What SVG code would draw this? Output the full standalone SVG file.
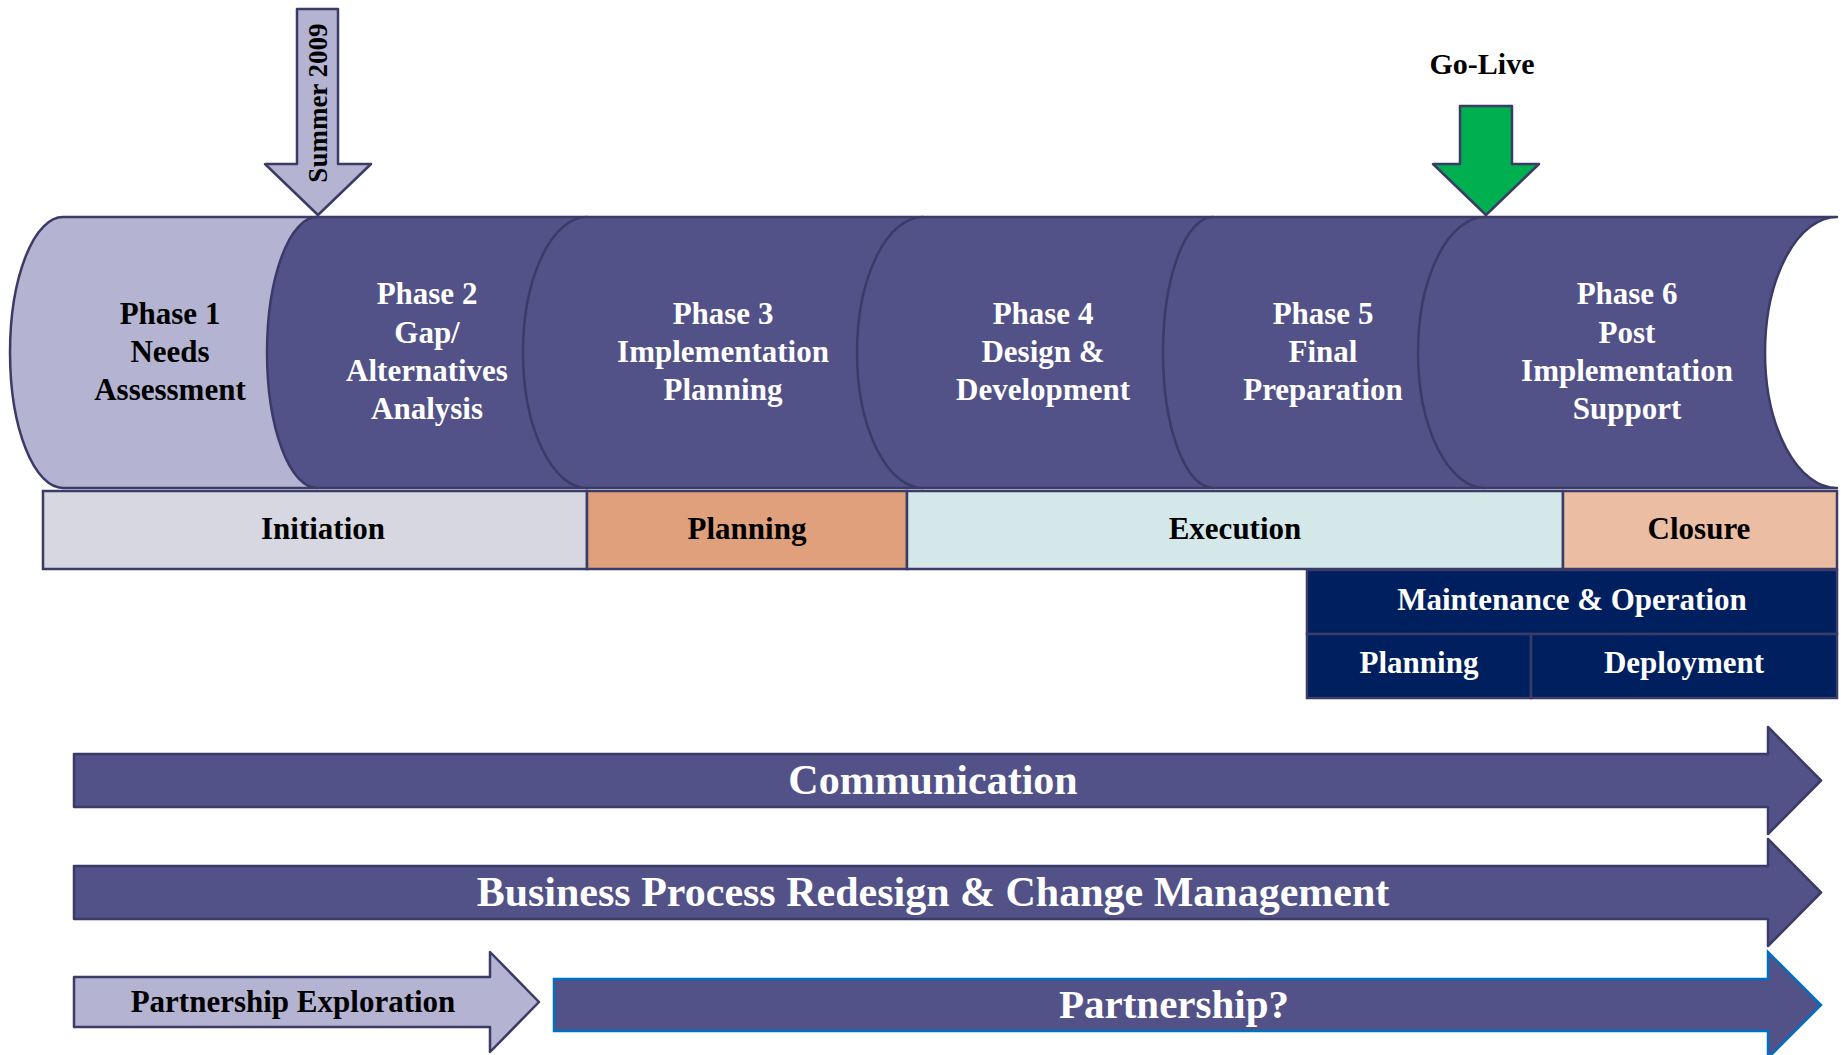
<svg xmlns="http://www.w3.org/2000/svg" width="1841" height="1055" viewBox="0 0 1841 1055">
<style>
  .dark{fill:#525288;stroke:#3B3B68;stroke-width:2.5;stroke-linejoin:round}
  .light{fill:#B4B4D2;stroke:#3B3B68;stroke-width:2.5;stroke-linejoin:round}
  .band{stroke:#3B3B68;stroke-width:2.5}
  .navy{fill:#001F5F;stroke:#3B3B68;stroke-width:2.5}
  text{font-family:"Liberation Serif","Times New Roman",serif;font-weight:bold;text-anchor:middle}
  .w{fill:#FFFFFF}
  .b{fill:#000000}
  .t31{font-size:31px}
  .t42{font-size:42px}
</style>
<rect width="1841" height="1055" fill="#FFFFFF"/>

<g id="milestones">
  <g id="summer2009">
    <path class="light" d="M297,9 L338,9 L338,164 L371,164 L318,215 L265,164 L297,164 Z"/>
    <text class="b" font-size="27" transform="translate(327,103) rotate(-90)">Summer 2009</text>
  </g>
  <g id="golive">
    <path d="M1460,106 L1512,106 L1512,164 L1539,164 L1486,215 L1433,164 L1460,164 Z" fill="#00AF50" stroke="#3B3B68" stroke-width="2.5" stroke-linejoin="round"/>
    <text class="b" font-size="30" x="1482" y="74">Go-Live</text>
  </g>
</g>

<g id="phases">
  <g id="phase1">
    <path class="light" d="M63,217 L317,217 L317,488 L63,488 A53,135.5 0 0 1 63,217 Z"/>
    <text class="b t31" x="170" y="324">Phase 1</text>
    <text class="b t31" x="170" y="362">Needs</text>
    <text class="b t31" x="170" y="400">Assessment</text>
  </g>
  <g id="phase2">
    <path class="dark" d="M317,217 L587,217 L587,488 L317,488 A50,135.5 0 0 1 317,217 Z"/>
    <text class="w t31" x="427" y="304">Phase 2</text>
    <text class="w t31" x="427" y="343">Gap/</text>
    <text class="w t31" x="427" y="381">Alternatives</text>
    <text class="w t31" x="427" y="419">Analysis</text>
  </g>
  <g id="phase3">
    <path class="dark" d="M587,217 L923,217 L923,488 L587,488 A64,135.5 0 0 1 587,217 Z"/>
    <text class="w t31" x="723" y="324">Phase 3</text>
    <text class="w t31" x="723" y="362">Implementation</text>
    <text class="w t31" x="723" y="400">Planning</text>
  </g>
  <g id="phase4">
    <path class="dark" d="M923,217 L1213,217 L1213,488 L923,488 A66,135.5 0 0 1 923,217 Z"/>
    <text class="w t31" x="1043" y="324">Phase 4</text>
    <text class="w t31" x="1043" y="362">Design &amp;</text>
    <text class="w t31" x="1043" y="400">Development</text>
  </g>
  <g id="phase5">
    <path class="dark" d="M1213,217 L1485,217 L1485,488 L1213,488 A50,135.5 0 0 1 1213,217 Z"/>
    <text class="w t31" x="1323" y="324">Phase 5</text>
    <text class="w t31" x="1323" y="362">Final</text>
    <text class="w t31" x="1323" y="400">Preparation</text>
  </g>
  <g id="phase6">
    <path class="dark" d="M1485,217 L1837,217 A72,135.5 0 0 0 1837,488 L1485,488 A67,135.5 0 0 1 1485,217 Z"/>
    <text class="w t31" x="1627" y="304">Phase 6</text>
    <text class="w t31" x="1627" y="343">Post</text>
    <text class="w t31" x="1627" y="381">Implementation</text>
    <text class="w t31" x="1627" y="419">Support</text>
  </g>
</g>

<g id="stages">
  <g id="initiation">
    <rect class="band" x="43" y="491" width="544" height="78" fill="#D7D7E1"/>
    <text class="b t31" x="323" y="539">Initiation</text>
  </g>
  <g id="planning">
    <rect class="band" x="587" y="491" width="320" height="78" fill="#E0A07C"/>
    <text class="b t31" x="747" y="539">Planning</text>
  </g>
  <g id="execution">
    <rect class="band" x="907" y="491" width="656" height="78" fill="#D4E8EA"/>
    <text class="b t31" x="1235" y="539">Execution</text>
  </g>
  <g id="closure">
    <rect class="band" x="1563" y="491" width="274" height="78" fill="#EBBEA4"/>
    <text class="b t31" x="1699" y="539">Closure</text>
  </g>
</g>

<g id="maintenance">
  <g id="mo">
    <rect class="navy" x="1307" y="570" width="530" height="64"/>
    <text class="w t31" x="1572" y="610">Maintenance &amp; Operation</text>
  </g>
  <g id="mo-planning">
    <rect class="navy" x="1307" y="634" width="224" height="64"/>
    <text class="w t31" x="1419" y="673">Planning</text>
  </g>
  <g id="mo-deployment">
    <rect class="navy" x="1531" y="634" width="306" height="64"/>
    <text class="w t31" x="1684" y="673">Deployment</text>
  </g>
</g>

<g id="connectors">
  <g id="communication">
    <path class="dark" d="M74,754 L1768,754 L1768,727 L1821,780.5 L1768,834 L1768,807 L74,807 Z"/>
    <text class="w t42" x="933" y="794">Communication</text>
  </g>
  <g id="bpr">
    <path class="dark" d="M74,866 L1768,866 L1768,839 L1821,892.5 L1768,946 L1768,919 L74,919 Z"/>
    <text class="w t42" x="933" y="906">Business Process Redesign &amp; Change Management</text>
  </g>
  <g id="partnership-exploration">
    <path class="light" d="M74,977 L490,977 L490,952 L539,1002 L490,1052 L490,1027 L74,1027 Z"/>
    <text class="b t31" x="293" y="1012">Partnership Exploration</text>
  </g>
  <g id="partnership">
    <path d="M554,979 L1768,979 L1768,952 L1821,1005 L1768,1058 L1768,1031 L554,1031 Z" fill="#525288" stroke="#0070C0" stroke-width="2.5" stroke-linejoin="miter"/>
    <text class="w" font-size="41" x="1174" y="1018">Partnership?</text>
  </g>
</g>
</svg>
